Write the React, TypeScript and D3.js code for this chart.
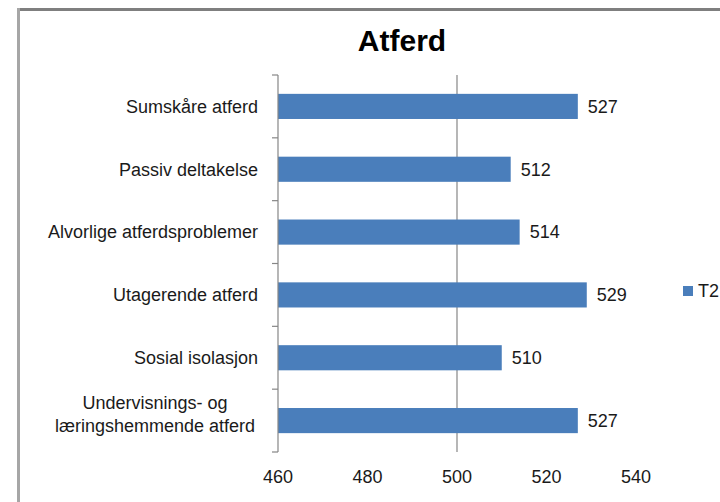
import React from "react";
import * as d3 from "d3";

const categories = [
  "Sumskåre atferd",
  "Passiv deltakelse",
  "Alvorlige atferdsproblemer",
  "Utagerende atferd",
  "Sosial isolasjon",
  "Undervisnings- og\nlæringshemmende atferd",
];
const valuesT2 = [527, 512, 514, 529, 510, 527];
const xTicks = [460, 480, 500, 520, 540];
const gridValues = [500];
const seriesName = "T2";
const title = "Atferd";

const W = 720;
const H = 502;
const FONT = "'Liberation Sans', Arial, sans-serif";

export default function App() {
  const x = d3.scaleLinear().domain([460, 540]).range([278, 636]);
  const y = d3
    .scaleBand<string>()
    .domain(categories)
    .range([75, 452])
    .paddingInner(0.6)
    .paddingOuter(0.3);
  const step = y.step();
  const top = 75;
  const bottom = 452;
  const axisColor = "#868686";
  const barColor = "#4a7ebb";
  const textColor = "#1a1a1a";

  return (
    <svg
      width={W}
      height={H}
      style={{ position: "absolute", left: 0, top: 0, background: "#fff" }}
      fontFamily={FONT}
    >
      {/* frame */}
      <rect x={17} y={8} width={W} height={H} fill="#fff" />
      <line x1={17} y1={9.5} x2={W} y2={9.5} stroke="#7f7f7f" strokeWidth={3} />
      <line x1={18.5} y1={8} x2={18.5} y2={H} stroke="#a6a6a6" strokeWidth={3} />

      {/* title */}
      <text x={402} y={51} textAnchor="middle" fontSize={30} fontWeight="bold" fill="#000">
        {title}
      </text>

      {/* gridlines */}
      {gridValues.map((g) => (
        <line key={g} x1={x(g)} x2={x(g)} y1={top} y2={bottom} stroke={axisColor} strokeWidth={1.2} />
      ))}

      {/* bars */}
      {categories.map((c, i) => (
        <rect
          key={c}
          x={x(460)}
          y={y(c)!}
          width={x(valuesT2[i]) - x(460)}
          height={y.bandwidth()}
          fill={barColor}
        />
      ))}

      {/* y axis */}
      <line x1={278} x2={278} y1={top} y2={bottom} stroke={axisColor} strokeWidth={1.2} />
      {d3.range(categories.length + 1).map((i) => (
        <line
          key={i}
          x1={272}
          x2={278}
          y1={top + i * step}
          y2={top + i * step}
          stroke={axisColor}
          strokeWidth={1.2}
        />
      ))}

      {/* category labels */}
      {categories.map((c) => {
        const lines = c.split("\n");
        const cy = y(c)! + y.bandwidth() / 2;
        if (lines.length === 1) {
          return (
            <text key={c} x={258} y={cy} dy="0.35em" textAnchor="end" fontSize={18} fill={textColor}>
              {c}
            </text>
          );
        }
        return (
          <text key={c} x={155} y={cy - 6} textAnchor="middle" fontSize={18} fill={textColor}>
            {lines.map((l, k) => (
              <tspan key={k} x={155} dy={k === 0 ? "-0.32em" : "1.28em"}>
                {l}
              </tspan>
            ))}
          </text>
        );
      })}

      {/* value labels */}
      {categories.map((c, i) => (
        <text
          key={c}
          x={x(valuesT2[i]) + 10}
          y={y(c)! + y.bandwidth() / 2}
          dy="0.35em"
          fontSize={18}
          fill={textColor}
        >
          {valuesT2[i]}
        </text>
      ))}

      {/* x tick labels */}
      {xTicks.map((t) => (
        <text key={t} x={x(t)} y={483} textAnchor="middle" fontSize={18} fill={textColor}>
          {t}
        </text>
      ))}

      {/* legend */}
      <rect x={683} y={286} width={10} height={10} fill={barColor} />
      <text x={698} y={291} dy="0.35em" fontSize={18} fill={textColor}>
        {seriesName}
      </text>
    </svg>
  );
}
